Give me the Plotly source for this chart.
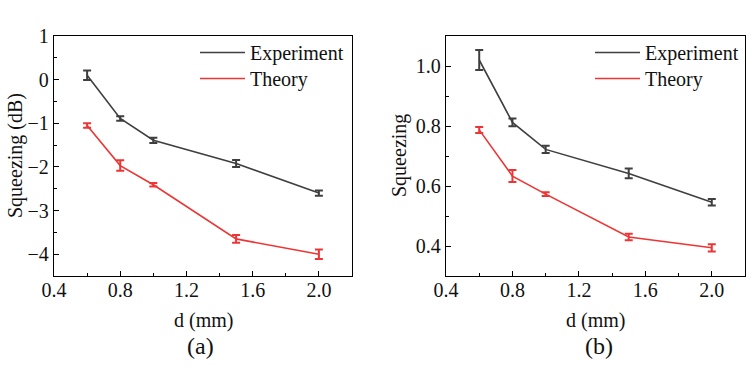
import plotly.graph_objects as go

d = [0.6, 0.8, 1.0, 1.5, 2.0]

# panel (a): squeezing in dB
exp_db = [0.1, -0.89, -1.39, -1.92, -2.6]
exp_db_err = [0.11, 0.05, 0.06, 0.08, 0.06]
th_db = [-1.05, -1.97, -2.41, -3.65, -4.0]
th_db_err = [0.05, 0.12, 0.04, 0.09, 0.11]

# panel (b): linear squeezing
exp_lin = [1.02, 0.812, 0.722, 0.642, 0.546]
exp_lin_err = [0.033, 0.013, 0.012, 0.016, 0.011]
th_lin = [0.787, 0.633, 0.573, 0.43, 0.394]
th_lin_err = [0.01, 0.02, 0.006, 0.011, 0.012]

x_ticks = [0.4, 0.8, 1.2, 1.6, 2.0]
x_ticklabels = ["0.4", "0.8", "1.2", "1.6", "2.0"]
ya_ticks = [1, 0, -1, -2, -3, -4]
ya_ticklabels = ["1", "0", "\u22121", "\u22122", "\u22123", "\u22124"]
yb_ticks = [0.4, 0.6, 0.8, 1.0]
yb_ticklabels = ["0.4", "0.6", "0.8", "1.0"]

GRAY = "#3f3f3f"
RED = "#ee3535"
FONT = "Times New Roman, Liberation Serif, serif"
TXT = "#111"
FS = 20

fig = go.Figure()

def add(x, y, err, color, name, xa, ya, legend):
    fig.add_trace(go.Scatter(
        x=x, y=y, mode="lines", name=name,
        line=dict(color=color, width=1.6),
        error_y=dict(type="data", array=err, visible=True, color=color,
                     thickness=2, width=4),
        xaxis=xa, yaxis=ya, legend=legend, showlegend=True))

add(d, exp_db, exp_db_err, GRAY, "Experiment", "x", "y", "legend")
add(d, th_db, th_db_err, RED, "Theory", "x", "y", "legend2")
add(d, exp_lin, exp_lin_err, GRAY, "Experiment", "x2", "y2", "legend3")
add(d, th_lin, th_lin_err, RED, "Theory", "x2", "y2", "legend4")

W, H = 752, 366
ytop = 1 - 36 / H
ybot = 1 - 276 / H

def xaxis(dom, anchor):
    return dict(domain=dom, anchor=anchor, range=[0.4, 2.2], automargin=False,
                tickvals=x_ticks, ticktext=x_ticklabels,
                ticks="inside", ticklen=5, tickwidth=1.2, tickcolor="black",
                ticklabelstandoff=-4,
                minor=dict(dtick=0.2, tick0=0.4, ticks="inside", ticklen=3,
                           tickwidth=1.2, tickcolor="black"),
                showline=True, linecolor="black", linewidth=1.3, mirror=True,
                showgrid=False, zeroline=False,
                tickfont=dict(family=FONT, size=FS, color=TXT))

def yaxis(rng, tv, tt, minor_dtick, anchor):
    return dict(domain=[ybot, ytop], anchor=anchor, range=rng, automargin=False,
                tickvals=tv, ticktext=tt,
                ticks="inside", ticklen=5, tickwidth=1.2, tickcolor="black",
                minor=dict(dtick=minor_dtick, tick0=rng[0], ticks="inside",
                           ticklen=3, tickwidth=1.2, tickcolor="black"),
                showline=True, linecolor="black", linewidth=1.3, mirror=True,
                showgrid=False, zeroline=False,
                tickfont=dict(family=FONT, size=FS, color=TXT))

legend_style = dict(font=dict(family=FONT, size=FS, color=TXT),
                    bgcolor="rgba(0,0,0,0)", borderwidth=0,
                    xanchor="left", yanchor="top", tracegroupgap=0,
                    itemwidth=45)

fig.update_layout(
    template="none",
    width=W, height=H,
    margin=dict(l=0, r=0, t=0, b=0, pad=0, autoexpand=False),
    paper_bgcolor="white", plot_bgcolor="white",
    font=dict(family=FONT, size=FS, color=TXT),
    xaxis=xaxis([54 / W, 352 / W], "y"),
    yaxis=yaxis([-4.5, 1], ya_ticks, ya_ticklabels, 0.5, "x"),
    xaxis2=xaxis([446 / W, 745 / W], "y2"),
    yaxis2=yaxis([0.3, 1.1], yb_ticks, yb_ticklabels, 0.1, "x2"),
    legend=dict(x=195 / W, y=1 - 33 / H, **legend_style),
    legend2=dict(x=195 / W, y=1 - 59 / H, **legend_style),
    legend3=dict(x=590 / W, y=1 - 33 / H, **legend_style),
    legend4=dict(x=590 / W, y=1 - 59 / H, **legend_style),
)

ann = dict(xref="paper", yref="paper", showarrow=False,
           xanchor="center", yanchor="middle",
           font=dict(family=FONT, size=FS, color=TXT))
ymid = 1 - 156 / H
fig.add_annotation(text="Squeezing (dB)", x=15 / W, y=ymid, textangle=-90, **ann)
fig.add_annotation(text="Squeezing", x=399 / W, y=ymid, textangle=-90, **ann)
fig.add_annotation(text="d (mm)", x=203 / W, y=1 - 320 / H, **ann)
fig.add_annotation(text="d (mm)", x=595 / W, y=1 - 320 / H, **ann)
ann2 = dict(ann)
ann2["font"] = dict(family=FONT, size=24, color=TXT)
fig.add_annotation(text="(a)", x=200 / W, y=1 - 346 / H, **ann2)
fig.add_annotation(text="(b)", x=599 / W, y=1 - 346 / H, **ann2)

fig.write_html("out.html")
